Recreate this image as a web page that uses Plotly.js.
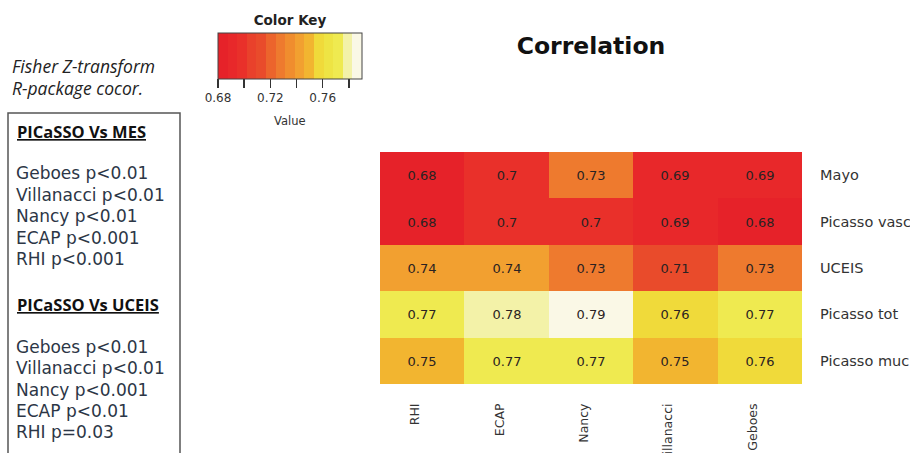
<!DOCTYPE html>
<html>
<head>
<meta charset="utf-8">
<script src="https://cdn.plot.ly/plotly-3.0.1.min.js"></script>
<style>html,body{margin:0;padding:0;background:#fff;}#chart{width:910px;height:453px;}</style>
</head>
<body>
<div id="chart"></div>
<script>
// ---- data ----
const columns = ['RHI', 'ECAP', 'Nancy', 'Villanacci', 'Geboes'];
const rows = ['Mayo', 'Picasso vasc', 'UCEIS', 'Picasso tot', 'Picasso muc'];
const mayo        = [0.68, 0.70, 0.73, 0.69, 0.69];
const picassoVasc = [0.68, 0.70, 0.70, 0.69, 0.68];
const uceis       = [0.74, 0.74, 0.73, 0.71, 0.73];
const picassoTot  = [0.77, 0.78, 0.79, 0.76, 0.77];
const picassoMuc  = [0.75, 0.77, 0.77, 0.75, 0.76];
const keyMin = 0.68, keyMax = 0.79;
const keyTicks = [0.68, 0.70, 0.72, 0.74, 0.76, 0.78];
const keyTickLabels = ['0.68', '', '0.72', '', '0.76', ''];
const keyColors = ['#E62229', '#E8282A', '#E9302A', '#E9412B', '#E94B2B', '#EC642C', '#EE7A2E',
                   '#F08D2E', '#F2A030', '#F2B530', '#F0DA3A', '#EEE444', '#EFEA50', '#F3F2A8', '#FAF8E6'];
const noteLines = ['Fisher Z-transform', 'R-package cocor.'];
const mesHeader = 'PICaSSO Vs MES';
const mesLines = ['Geboes p<0.01', 'Villanacci p<0.01', 'Nancy p<0.01', 'ECAP p<0.001', 'RHI p<0.001'];
const uceisHeader = 'PICaSSO Vs UCEIS';
const uceisLines = ['Geboes p<0.01', 'Villanacci p<0.01', 'Nancy p<0.001', 'ECAP p<0.01', 'RHI p=0.03'];

// ---- build ----
const z = [mayo, picassoVasc, uceis, picassoTot, picassoMuc];
const n = keyColors.length;
const colorscale = [];
keyColors.forEach((c, i) => { colorscale.push([i / n, c]); colorscale.push([(i + 1) / n, c]); });

const W = 910, H = 453;
const M = {l: 380, r: 108, t: 152, b: 69};
const pw = W - M.l - M.r, ph = H - M.t - M.b;
const px = x => (x - M.l) / pw;
const py = y => (H - M.b - y) / ph;

const chartFont = 'DejaVu Sans, Liberation Sans, Arial, sans-serif';
const noteFont = 'Open Sans, Noto Sans, sans-serif';
const bodyFont = 'DejaVu Sans, Open Sans, sans-serif';

const trace = {
  type: 'heatmap',
  x: columns, y: rows, z: z,
  zmin: keyMin, zmax: keyMax,
  colorscale: colorscale,
  xgap: 0, ygap: 0,
  texttemplate: '%{z}',
  textfont: {family: chartFont, size: 13, color: '#2a2222'},
  hoverinfo: 'x+y+z',
  colorbar: {
    orientation: 'h',
    x: px(290), xanchor: 'center',
    y: py(17), yanchor: 'top',
    lenmode: 'pixels', len: 144,
    thicknessmode: 'pixels', thickness: 46,
    xpad: 0, ypad: 0,
    outlinewidth: 1, outlinecolor: '#444',
    ticks: 'outside', ticklen: 9, tickwidth: 1.5, tickcolor: '#333',
    tickvals: keyTicks, ticktext: keyTickLabels,
    tickfont: {family: chartFont, size: 12, color: '#333'},
    title: {text: '<b>Color Key</b>', side: 'top', font: {family: chartFont, size: 13.5, color: '#222'}}
  }
};

const annotations = [];
annotations.push({xref: 'paper', yref: 'paper', x: px(290), y: py(121), text: 'Value', showarrow: false,
  xanchor: 'center', yanchor: 'middle', font: {family: chartFont, size: 11.5, color: '#333'}});
noteLines.forEach((t, i) => annotations.push({xref: 'paper', yref: 'paper', x: px(10), y: py(66 + i * 22),
  text: '<i>' + t + '</i>', showarrow: false, xanchor: 'left', yanchor: 'middle',
  font: {family: noteFont, size: 17.5, color: '#222'}}));
annotations.push({xref: 'paper', yref: 'paper', x: px(15), y: py(131), text: '<b><u>' + mesHeader + '</u></b>',
  showarrow: false, xanchor: 'left', yanchor: 'middle', font: {family: noteFont, size: 16.5, color: '#111'}});
mesLines.forEach((t, i) => annotations.push({xref: 'paper', yref: 'paper', x: px(14), y: py(173 + i * 21.5),
  text: t.replace(/</g, '&lt;'), showarrow: false, xanchor: 'left', yanchor: 'middle',
  font: {family: bodyFont, size: 17, color: '#2c3646'}}));
annotations.push({xref: 'paper', yref: 'paper', x: px(15), y: py(304), text: '<b><u>' + uceisHeader + '</u></b>',
  showarrow: false, xanchor: 'left', yanchor: 'middle', font: {family: noteFont, size: 16.5, color: '#111'}});
uceisLines.forEach((t, i) => annotations.push({xref: 'paper', yref: 'paper', x: px(14), y: py(347 + i * 21.3),
  text: t.replace(/</g, '&lt;'), showarrow: false, xanchor: 'left', yanchor: 'middle',
  font: {family: bodyFont, size: 17, color: '#2c3646'}}));

const layout = {
  width: W, height: H,
  margin: M,
  paper_bgcolor: '#fff', plot_bgcolor: '#fff',
  title: {text: '<b>Correlation</b>', x: 0.5, xref: 'paper', y: 1 - 46 / H, yanchor: 'middle',
          font: {family: chartFont, size: 23.5, color: '#111'}},
  xaxis: {type: 'category', tickangle: -90, ticks: '', ticklabelstandoff: 16, ticklabelshift: -7,
          showgrid: false, zeroline: false, showline: false,
          tickfont: {family: chartFont, size: 12.5, color: '#333'}},
  yaxis: {type: 'category', side: 'right', autorange: 'reversed', ticks: '', ticklabelstandoff: 17,
          showgrid: false, zeroline: false, showline: false,
          tickfont: {family: chartFont, size: 14.5, color: '#333'}},
  shapes: [{type: 'rect', xref: 'paper', yref: 'paper', x0: px(8), x1: px(180), y0: py(113), y1: py(470),
            line: {color: '#555', width: 1.5}, fillcolor: 'rgba(0,0,0,0)'}],
  annotations: annotations,
  showlegend: false
};

Plotly.newPlot('chart', [trace], layout, {displayModeBar: false, staticPlot: true});
</script>
</body>
</html>
